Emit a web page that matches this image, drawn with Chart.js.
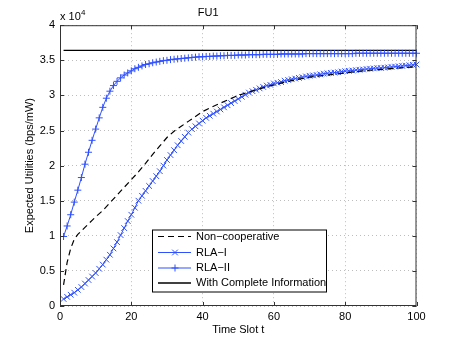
<!DOCTYPE html>
<html>
<head>
<meta charset="utf-8">
<script src="https://cdn.jsdelivr.net/npm/chart.js@4.4.0/dist/chart.umd.min.js"></script>
<style>
  body { margin: 0; background: #fff; }
  #fuChart { display: block; }
</style>
</head>
<body>
<canvas id="fuChart" width="460" height="345"></canvas>
<script>
// values are in units of 10^4 bps/mW
const timeSlots = Array.from({ length: 100 }, (_, i) => i + 1);

const rlaOne = [
  0.10, 0.13, 0.16, 0.19, 0.23, 0.27, 0.32, 0.37, 0.42, 0.47,
  0.53, 0.59, 0.66, 0.73, 0.82, 0.91, 1.01, 1.11, 1.21, 1.30,
  1.40, 1.50, 1.57, 1.64, 1.71, 1.78, 1.85, 1.92, 2.00, 2.08,
  2.15, 2.22, 2.29, 2.35, 2.41, 2.47, 2.52, 2.56, 2.60, 2.64,
  2.68, 2.71, 2.74, 2.77, 2.80, 2.83, 2.86, 2.89, 2.92, 2.95,
  2.98, 3.01, 3.04, 3.06, 3.08, 3.10, 3.12, 3.14, 3.15, 3.17,
  3.18, 3.19, 3.21, 3.22, 3.23, 3.24, 3.25, 3.26, 3.27, 3.28,
  3.285, 3.29, 3.30, 3.31, 3.315, 3.32, 3.325, 3.33, 3.34, 3.345,
  3.35, 3.355, 3.36, 3.365, 3.37, 3.375, 3.38, 3.385, 3.39, 3.39,
  3.395, 3.40, 3.405, 3.41, 3.415, 3.42, 3.425, 3.43, 3.435, 3.44
];

const rlaTwo = [
  0.99, 1.14, 1.30, 1.48, 1.65, 1.83, 2.02, 2.19, 2.36, 2.52,
  2.68, 2.83, 2.96, 3.06, 3.14, 3.20, 3.25, 3.29, 3.32, 3.35,
  3.38, 3.40, 3.42, 3.44, 3.45, 3.465, 3.475, 3.485, 3.495, 3.50,
  3.51, 3.515, 3.52, 3.525, 3.53, 3.535, 3.54, 3.545, 3.55, 3.55,
  3.555, 3.555, 3.56, 3.56, 3.565, 3.565, 3.57, 3.57, 3.57, 3.575,
  3.575, 3.575, 3.58, 3.58, 3.58, 3.58, 3.585, 3.585, 3.585, 3.585,
  3.585, 3.59, 3.59, 3.59, 3.59, 3.59, 3.59, 3.59, 3.595, 3.595,
  3.595, 3.595, 3.595, 3.595, 3.595, 3.595, 3.595, 3.595, 3.595, 3.595,
  3.595, 3.595, 3.60, 3.60, 3.60, 3.60, 3.60, 3.60, 3.60, 3.60,
  3.60, 3.60, 3.60, 3.60, 3.60, 3.60, 3.60, 3.60, 3.60, 3.60
];

const nonCoopSlots = [1, 2, 3, 4, 5, 6, 7, 8, 9, 10, 12, 14, 16, 18, 20, 22, 24, 26, 28, 30,
  32, 34, 36, 38, 40, 42, 45, 50, 55, 60, 65, 70, 75, 80, 85, 90, 95, 100];
const nonCoopVals = [0.30, 0.62, 0.82, 0.95, 1.02, 1.07, 1.12, 1.17, 1.22, 1.27, 1.36, 1.47, 1.58, 1.69, 1.80, 1.91, 2.03, 2.16, 2.28, 2.40,
  2.49, 2.56, 2.63, 2.70, 2.77, 2.82, 2.89, 3.00, 3.08, 3.15, 3.21, 3.26, 3.29, 3.32, 3.35, 3.37, 3.39, 3.41];

const fullInfoSlots = [1, 100];
const fullInfoVals = [3.64, 3.64];

const xTicks = [0, 20, 40, 60, 80, 100];
const yTicks = [0, 0.5, 1, 1.5, 2, 2.5, 3, 3.5, 4];

const blue = '#2f50ff';
const fontFamily = '"Liberation Sans", Arial, Helvetica, sans-serif';
const pts = (xs, ys) => xs.map((x, i) => ({ x: x, y: ys[i] }));

// box, inner ticks, exponent label and legend in MATLAB style
const matlabDeco = {
  id: 'matlabDeco',
  afterDraw(chart) {
    const { ctx, chartArea: a, scales } = chart;
    ctx.save();
    ctx.strokeStyle = '#333';
    ctx.lineWidth = 1;
    ctx.setLineDash([]);
    ctx.strokeRect(a.left + 0.5, a.top + 0.5, a.right - a.left - 1, a.bottom - a.top - 1);
    ctx.beginPath();
    xTicks.forEach(v => {
      const x = Math.round(scales.x.getPixelForValue(v)) + 0.5;
      ctx.moveTo(x, a.bottom); ctx.lineTo(x, a.bottom - 4);
      ctx.moveTo(x, a.top); ctx.lineTo(x, a.top + 4);
    });
    yTicks.forEach(v => {
      const y = Math.round(scales.y.getPixelForValue(v)) + 0.5;
      ctx.moveTo(a.left, y); ctx.lineTo(a.left + 4, y);
      ctx.moveTo(a.right, y); ctx.lineTo(a.right - 4, y);
    });
    ctx.stroke();

    ctx.fillStyle = '#000';
    ctx.textBaseline = 'alphabetic';
    ctx.textAlign = 'left';
    ctx.font = '11px ' + fontFamily;
    ctx.fillText('x 10', a.left, a.top - 5);
    ctx.font = '8px ' + fontFamily;
    ctx.fillText('4', a.left + 21, a.top - 10);

    // legend
    const lx = a.left + 92, ly = 229.5, lw = 174, lh = 62;
    ctx.fillStyle = '#fff';
    ctx.fillRect(lx, ly, lw, lh);
    ctx.strokeStyle = '#000';
    ctx.strokeRect(lx + 0.5, ly + 0.5, lw, lh);
    const rowY = [236.5, 252.5, 268, 283];
    chart.data.datasets.forEach((ds, i) => {
      const y = rowY[i];
      ctx.save();
      ctx.strokeStyle = ds.borderColor;
      ctx.lineWidth = ds.borderWidth;
      ctx.setLineDash(ds.borderDash || []);
      ctx.beginPath();
      ctx.moveTo(lx + 6, y); ctx.lineTo(lx + 39, y);
      ctx.stroke();
      ctx.setLineDash([]);
      if (ds.pointRadius > 0) {
        ctx.lineWidth = 1;
        Chart.helpers.drawPoint(ctx, {
          pointStyle: ds.pointStyle, radius: ds.pointRadius, borderWidth: 1, rotation: 0
        }, lx + 23, y);
      }
      ctx.restore();
      ctx.fillStyle = '#000';
      ctx.font = '11px ' + fontFamily;
      ctx.textBaseline = 'middle';
      ctx.fillText(ds.label, lx + 44, y);
    });
    ctx.restore();
  }
};

new Chart(document.getElementById('fuChart').getContext('2d'), {
  type: 'line',
  data: {
    datasets: [
      {
        label: 'Non\u2212cooperative',
        data: pts(nonCoopSlots, nonCoopVals),
        borderColor: '#000', borderWidth: 1.2, borderDash: [6, 4],
        pointRadius: 0, tension: 0, clip: false
      },
      {
        label: 'RLA\u2212I',
        data: pts(timeSlots, rlaOne),
        borderColor: blue, backgroundColor: blue, borderWidth: 1,
        pointStyle: 'crossRot', pointRadius: 4, pointBorderColor: blue, pointBorderWidth: 1,
        tension: 0, clip: false
      },
      {
        label: 'RLA\u2212II',
        data: pts(timeSlots, rlaTwo),
        borderColor: blue, backgroundColor: blue, borderWidth: 1,
        pointStyle: 'cross', pointRadius: 3.5, pointBorderColor: blue, pointBorderWidth: 1,
        tension: 0, clip: false
      },
      {
        label: 'With Complete Information',
        data: pts(fullInfoSlots, fullInfoVals),
        borderColor: '#000', borderWidth: 1.3,
        pointRadius: 0, tension: 0, clip: false
      }
    ]
  },
  options: {
    responsive: false,
    animation: false,
    layout: { padding: { right: 43.5 } },
    plugins: {
      legend: { display: false },
      tooltip: { enabled: false },
      title: {
        display: true, text: 'FU1', color: '#000',
        font: { family: fontFamily, size: 11, weight: 'normal' },
        padding: { top: 6, bottom: 6 }
      }
    },
    scales: {
      x: {
        type: 'linear', min: 0, max: 100,
        afterBuildTicks: s => { s.ticks = xTicks.map(v => ({ value: v })); },
        afterFit: s => { s.height = 39; },
        grid: { color: '#bdbdbd', drawTicks: false, lineWidth: 1 },
        border: { display: false, dash: [1, 3] },
        ticks: { color: '#000', padding: 4, maxRotation: 0, autoSkip: false,
          font: { family: fontFamily, size: 11 } },
        title: { display: true, text: 'Time Slot t', color: '#000',
          font: { family: fontFamily, size: 11 }, padding: { top: 0, bottom: 8 } }
      },
      y: {
        type: 'linear', min: 0, max: 4,
        afterBuildTicks: s => { s.ticks = yTicks.map(v => ({ value: v })); },
        afterFit: s => { s.width = 60; },
        grid: { color: '#bdbdbd', drawTicks: false, lineWidth: 1 },
        border: { display: false, dash: [1, 3] },
        ticks: { color: '#000', padding: 5, callback: v => String(v),
          font: { family: fontFamily, size: 11 } },
        title: { display: true, text: 'Expected Utilities (bps/mW)', color: '#000',
          font: { family: fontFamily, size: 11 }, padding: { top: 23, bottom: 0 } }
      }
    }
  },
  plugins: [matlabDeco]
});
</script>
</body>
</html>
